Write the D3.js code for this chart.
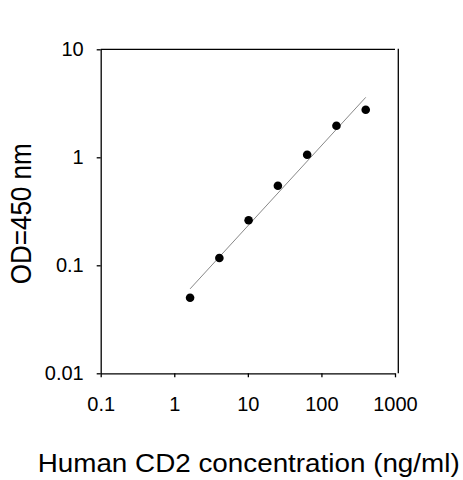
<!DOCTYPE html>
<html>
<head>
<meta charset="utf-8">
<script src="https://cdn.jsdelivr.net/npm/d3@7"></script>
<style>
  html, body { margin: 0; padding: 0; background: #fff; }
  svg { display: block; font-family: "Liberation Sans", Arial, sans-serif; }
</style>
</head>
<body>
<svg id="chart" width="463" height="480"></svg>
<script>
// Standard curve: concentration (ng/ml) vs OD at 450 nm
const concentrations = [1.64, 4.1, 10.24, 25.6, 64, 160, 400];
const odValues = [0.050, 0.117, 0.261, 0.546, 1.057, 1.96, 2.76];

// fitted line (log-log), endpoints
const fitX = [1.64, 400];
const fitY = [0.0605, 3.59];

const xTicks = [0.1, 1, 10, 100, 1000];
const xTickLabels = ['0.1', '1', '10', '100', '1000'];
const yTicks = [0.01, 0.1, 1, 10];
const yTickLabels = ['0.01', '0.1', '1', '10'];

const svg = d3.select('#chart');

const plotLeft = 100.7, plotRight = 395, plotTop = 49.3, plotBottom = 373.3;

const x = d3.scaleLog().domain([0.1, 1000]).range([plotLeft, plotRight]);
const y = d3.scaleLog().domain([0.01, 10]).range([plotBottom, plotTop]);

// Axes
const xAxis = d3.axisBottom(x)
    .tickValues(xTicks)
    .tickFormat((d, i) => xTickLabels[i])
    .tickSize(4)
    .tickSizeOuter(0)
    .tickPadding(20);

const yAxis = d3.axisLeft(y)
    .tickValues(yTicks)
    .tickFormat((d, i) => yTickLabels[i])
    .tickSize(4)
    .tickSizeOuter(0)
    .tickPadding(13);

const gx = svg.append('g')
    .attr('transform', `translate(0,${plotBottom})`)
    .call(xAxis);

const gy = svg.append('g')
    .attr('transform', `translate(${plotLeft},0)`)
    .call(yAxis);

[gx, gy].forEach(g => {
    g.selectAll('path, line').attr('stroke', '#000').attr('stroke-width', 1.3);
    g.selectAll('text')
        .attr('fill', '#000')
        .style('font-size', '20px')
        .style('font-family', '"Liberation Sans", Arial, sans-serif');
});

// Frame: top and right borders
svg.append('line')
    .attr('x1', x(0.1)).attr('x2', x(1000))
    .attr('y1', y(10)).attr('y2', y(10))
    .attr('stroke', '#000').attr('stroke-width', 1.3);

svg.append('line')
    .attr('x1', x(1000) + 3.3).attr('x2', x(1000) + 3.3)
    .attr('y1', y(10) - 0.5).attr('y2', y(0.01))
    .attr('stroke', '#000').attr('stroke-width', 1.3);

// Fit line
const fitData = fitX.map((d, i) => ({ x: d, y: fitY[i] }));
svg.append('path')
    .datum(fitData)
    .attr('fill', 'none')
    .attr('stroke', '#888')
    .attr('stroke-width', 1)
    .attr('d', d3.line().x(d => x(d.x)).y(d => y(d.y)));

// Points
svg.append('g')
    .selectAll('circle')
    .data(concentrations.map((c, i) => ({ c, od: odValues[i] })))
    .enter()
    .append('circle')
    .attr('cx', d => x(d.c))
    .attr('cy', d => y(d.od))
    .attr('r', 4.3)
    .attr('fill', '#000');

// Axis titles
svg.append('text')
    .attr('x', 248.7)
    .attr('y', 471.5)
    .attr('text-anchor', 'middle')
    .attr('textLength', 422)
    .attr('lengthAdjust', 'spacingAndGlyphs')
    .attr('fill', '#000')
    .style('font-size', '26.5px')
    .text('Human CD2 concentration (ng/ml)');

svg.append('text')
    .attr('transform', 'translate(31.3,213.8) rotate(-90)')
    .attr('text-anchor', 'middle')
    .attr('textLength', 141)
    .attr('lengthAdjust', 'spacingAndGlyphs')
    .attr('fill', '#000')
    .style('font-size', '29px')
    .text('OD=450 nm');
</script>
</body>
</html>
